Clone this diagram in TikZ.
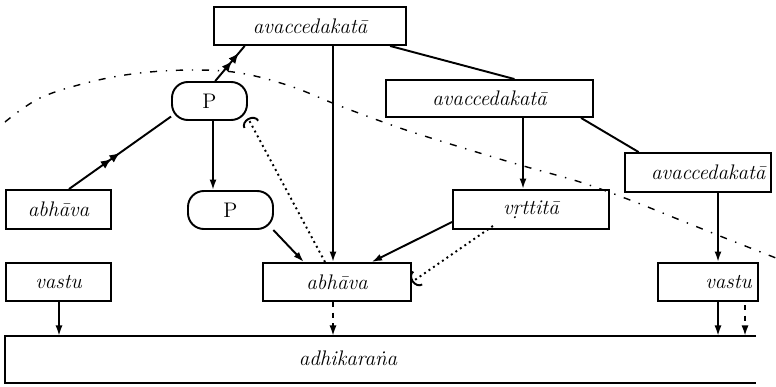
\documentclass[tikz,border=0pt]{standalone}
\usepackage{tikz}
\usetikzlibrary{arrows.meta,decorations.markings}

\begin{document}
\begin{tikzpicture}[
  x=0.02cm, y=-0.02cm,
  >={Latex[length=6pt,width=4pt]},
  box/.style={draw,line width=1.1pt,inner sep=2pt,font=\large\itshape},
  pbox/.style={draw,line width=1.1pt,rounded corners=9pt,inner sep=2pt,font=\large},
  link/.style={line width=1.1pt},
  dbl/.style={postaction={decorate},decoration={markings,
    mark=at position #1 with {\arrow{Latex[length=6pt,width=5pt]Latex[length=6pt,width=5pt]}}}}
]
\useasboundingbox (0,0) rectangle (776,386);

% upper row
\node[box,minimum width=3.84cm,minimum height=0.76cm] (topA) at (310,26) {avaccedakatā};
\node[box,minimum width=4.14cm,minimum height=0.74cm] (midA) at (489.5,98.5) {avaccedakatā};
\node[box,minimum width=2.92cm,minimum height=0.78cm,text width=2.7cm,align=right] (rightA) at (698,172.5) {avaccedakatā};
\node[pbox,minimum width=1.5cm,minimum height=0.76cm] (Pup) at (209.5,101) {P};

% middle row
\node[box,minimum width=2.1cm,minimum height=0.78cm] (abhL) at (58.5,209.5) {abhāva};
\node[pbox,minimum width=1.7cm,minimum height=0.76cm] (Plow) at (230.5,210) {P};
\node[box,minimum width=3.12cm,minimum height=0.78cm] (vrt) at (531,209.5) {v\d{r}ttitā};

% lower row
\node[box,minimum width=2.1cm,minimum height=0.76cm] (vastuL) at (58.5,282) {vastu};
\node[box,minimum width=2.96cm,minimum height=0.76cm] (abhC) at (337,282) {abhāva};
\node[box,minimum width=2.0cm,minimum height=0.76cm,text width=1.75cm,align=right] (vastuR) at (708,282) {vastu};

% adhikarana, open on the right
\node[font=\large\itshape] (adh) at (348,358) {adhikara\.{n}a};
\coordinate (adhNE) at (756,336);
\coordinate (adhNW) at (5,336);
\coordinate (adhSW) at (5,383);
\coordinate (adhSE) at (756,383);
\draw[link] (adhNE) -- (adhNW) -- (adhSW) -- (adhSE);

% connectors
\draw[link,dbl=0.5] ([xshift=0.01cm]abhL.64) -- (Pup.202);
\draw[link,dbl=0.8] (Pup.74) -- (topA.197);
\draw[link,->] ([xshift=0.07cm]Pup.south) -- ([xshift=0.07cm]Pup.south |- Plow.north);
\draw[link,->] (Plow.-25) -- (abhC.149);
\draw[link,->] ([xshift=-0.08cm]abhC.north |- topA.south) -- ([xshift=-0.08cm]abhC.north);
\draw[link] (topA.-14) -- (midA.38);
\draw[link] (midA.-12) -- (rightA.161);
\draw[link,->] ([xshift=-0.16cm]vrt.north |- midA.south) -- ([xshift=-0.16cm]vrt.north);
\draw[link,->] ([xshift=0.2cm]vastuR.north |- rightA.south) -- ([xshift=0.2cm]vastuR.north);
\draw[link,->] (vrt.189) -- (abhC.30);
\draw[dotted,line width=1.1pt,-{Arc Barb[length=4pt,width=10pt]}] (abhC.121) -- (Pup.-24);
\draw[dotted,line width=1.1pt,-{Arc Barb[length=4pt,width=10pt]},shorten <=-4pt] (vrt.205) -- (abhC.east);
\draw[link,->] ([xshift=0.01cm]vastuL.south) -- ([xshift=0.01cm]vastuL.south |- adhNW);
\draw[link,->,dashed] ([xshift=-0.08cm]abhC.south) -- ([xshift=-0.08cm]abhC.south |- adhNW);
\draw[link,->] ([xshift=0.2cm]vastuR.south) -- ([xshift=0.2cm]vastuR.south |- adhNW);
\coordinate (extra) at (745,305);
\draw[link,->,dashed] (extra) -- (extra |- adhNW);

% the long dash-dot curve
\draw[line width=0.8pt,dash pattern=on 4pt off 5pt on 0.8pt off 5pt]
  plot[smooth,tension=0.6] coordinates {(5,122) (40,98) (90,82) (140,73) (193,70) (240,73)
  (290,86) (340,106) (400,128) (460,147) (520,165) (580,182) (630,200) (680,220) (730,240) (776,258)};
\end{tikzpicture}
\end{document}
